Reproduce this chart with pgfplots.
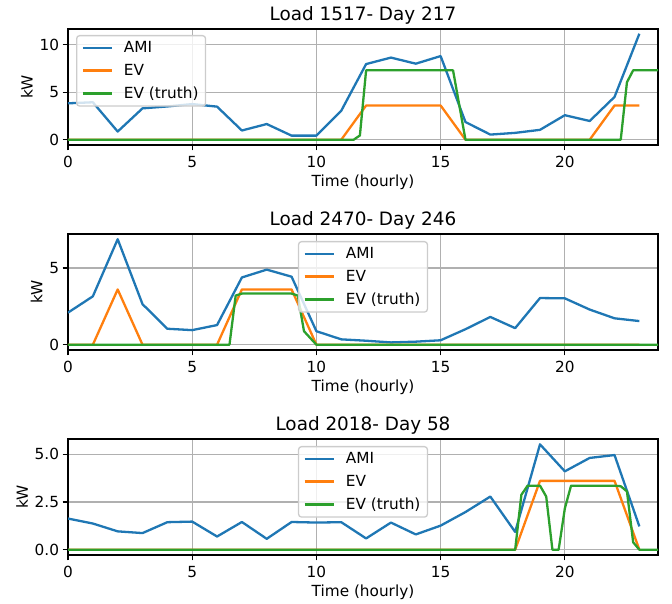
\documentclass[border=0pt]{standalone}
\usepackage{fontspec}
\setmainfont{DejaVu Sans}
\usepackage{pgfplots}
\pgfplotsset{compat=1.18}
\definecolor{c0}{HTML}{1F77B4}
\definecolor{c1}{HTML}{FF7F0E}
\definecolor{c2}{HTML}{2CA02C}
\definecolor{gridc}{HTML}{B0B0B0}
\newcommand{\fs}{\fontsize{15.3pt}{18pt}\selectfont}
\pgfplotsset{
 panel/.style={
  scale only axis, width=590pt, height=116pt,
  xmin=0, xmax=23.75, xtick={0,5,10,15,20},
  grid=major, major grid style={draw=gridc, line width=1.2pt},
  axis line style={line width=1.2pt},
  every tick/.style={black, line width=1.2pt},
  major tick length=5.4pt, tick align=outside,
  xtick pos=left, ytick pos=left,
  xlabel={Time (hourly)}, ylabel={kW},
  label style={font=\fs},
  xlabel style={yshift=-1pt},
  tick label style={font=\fs},
  xticklabel style={yshift=-2pt},
  title style={font=\fontsize{18.4pt}{22pt}\selectfont, at={(0.5,1)}, anchor=base, yshift=2pt},
  /pgf/number format/assume math mode=true,
  legend cell align=left,
  legend style={font=\fs, draw=black!20, line width=1.3pt, fill=white, fill opacity=0.8, text opacity=1, draw opacity=1, rounded corners=3pt, row sep=6pt, column sep=9pt, inner xsep=5pt, inner ysep=4pt},
  legend image code/.code={\draw[#1, line width=2.3pt] (0pt,0pt) -- (29pt,0pt);},
  every axis plot/.append style={line width=2.3pt, line join=round, mark=none},
 }
}
\begin{document}
\begin{tikzpicture}
\path[use as bounding box] (0,0) rectangle (672pt,604pt);
% Panel 1
\begin{axis}[panel, at={(68pt,459pt)}, anchor=south west,
  title={Load 1517- Day 217},
  ymin=-0.555, ymax=11.65, ytick={0,5,10},
  legend style={at={(0,1)}, anchor=north west, xshift=8pt, yshift=-6pt}]
\addplot[c0] coordinates {(0,3.83) (1,3.94) (2,0.86) (3,3.3) (4,3.5) (5,3.75) (6,3.48) (7,0.97) (8,1.65) (9,0.43) (10,0.43) (11,3.05) (12,7.96) (13,8.64) (14,8.0) (15,8.8) (16,1.86) (17,0.54) (18,0.72) (19,1.04) (20,2.58) (21,1.97) (22,4.5) (23,11.15)};
\addlegendentry{AMI}
\addplot[c1] coordinates {(0,0) (11,0) (12,3.6) (13,3.6) (14,3.6) (15,3.6) (16,0) (17,0) (18,0) (19,0) (20,0) (21,0) (22,3.6) (23,3.6)};
\addlegendentry{EV}
\addplot[c2] coordinates {(0,0) (11.5,0) (11.75,0.45) (12,7.3) (15.5,7.3) (16,0) (22.25,0) (22.5,6.05) (22.75,7.3) (23.75,7.3)};
\addlegendentry{EV (truth)}
\end{axis}
% Panel 2
\begin{axis}[panel, at={(68pt,254pt)}, anchor=south west,
  title={Load 2470- Day 246},
  ymin=-0.343, ymax=7.21, ytick={0,5},
  legend style={at={(0.5,1)}, anchor=north, yshift=-7pt}]
\addplot[c0] coordinates {(0,2.09) (1,3.15) (2,6.87) (3,2.64) (4,1.04) (5,0.95) (6,1.28) (7,4.38) (8,4.89) (9,4.43) (10,0.88) (11,0.35) (12,0.26) (13,0.15) (14,0.2) (15,0.29) (16,1.01) (17,1.81) (18,1.08) (19,3.04) (20,3.02) (21,2.29) (22,1.72) (23,1.54)};
\addlegendentry{AMI}
\addplot[c1] coordinates {(0,0) (1,0) (2,3.6) (3,0) (4,0) (5,0) (6,0) (7,3.6) (8,3.6) (9,3.6) (10,0) (23,0)};
\addlegendentry{EV}
\addplot[c2] coordinates {(0,0) (6.5,0) (6.75,3.2) (7,3.33) (9,3.33) (9.25,3.2) (9.5,0.88) (10,0) (23.75,0)};
\addlegendentry{EV (truth)}
\end{axis}
% Panel 3
\begin{axis}[panel, at={(68pt,49pt)}, anchor=south west,
  title={Load 2018- Day 58},
  ymin=-0.276, ymax=5.79, ytick={0,2.5,5},
  yticklabel style={/pgf/number format/.cd, fixed, fixed zerofill, precision=1},
  legend style={at={(0.5,1)}, anchor=north, yshift=-7pt}]
\addplot[c0] coordinates {(0,1.63) (1,1.37) (2,0.96) (3,0.87) (4,1.44) (5,1.47) (6,0.69) (7,1.45) (8,0.57) (9,1.45) (10,1.42) (11,1.44) (12,0.59) (13,1.42) (14,0.8) (15,1.26) (16,1.97) (17,2.78) (18,0.93) (19,5.51) (20,4.1) (21,4.8) (22,4.95) (23,1.22)};
\addlegendentry{AMI}
\addplot[c1] coordinates {(0,0) (18,0) (19,3.6) (20,3.6) (21,3.6) (22,3.6) (23,0)};
\addlegendentry{EV}
\addplot[c2] coordinates {(0,0) (18,0) (18.25,2.87) (18.5,3.35) (19,3.35) (19.25,2.78) (19.5,0) (19.75,0) (20,2.16) (20.25,3.35) (22,3.35) (22.25,3.32) (22.5,3.05) (22.75,0.39) (23,0) (23.75,0)};
\addlegendentry{EV (truth)}
\end{axis}
\end{tikzpicture}
\end{document}
